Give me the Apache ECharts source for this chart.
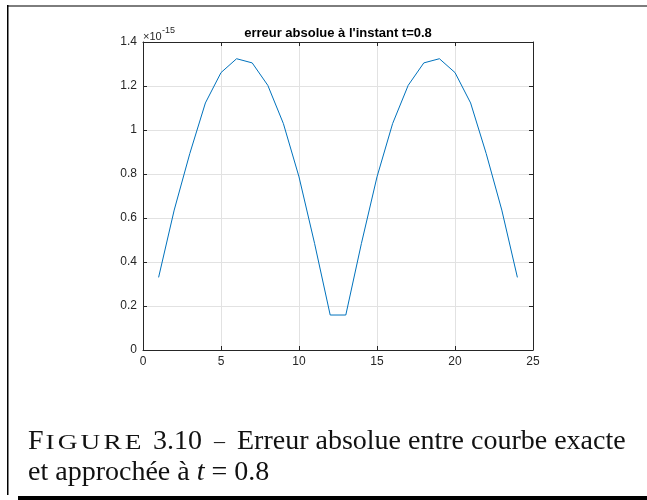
<!DOCTYPE html>
<html>
<head>
<meta charset="utf-8">
<script src="https://cdn.jsdelivr.net/npm/echarts@6/dist/echarts.min.js"></script>
<style>
html,body{margin:0;padding:0;background:#fff;}
#chart{width:647px;height:500px;}
</style>
</head>
<body>
<div id="chart"></div>
<script>
// ---- data (y values in units of 1e-15) ----
const xValues = [1,2,3,4,5,6,7,8,9,10,11,12,13,14,15,16,17,18,19,20,21,22,23,24];
const errorE15 = [0.330,0.636,0.893,1.123,1.261,1.324,1.305,1.203,1.029,0.787,0.484,0.159,
                  0.159,0.484,0.787,1.029,1.203,1.305,1.324,1.261,1.123,0.893,0.636,0.330];
const xTickValues = [0,5,10,15,20,25];
const yTickValues = [0,0.2,0.4,0.6,0.8,1,1.2,1.4];
const titleText = "erreur absolue à l'instant t=0.8";
const exponentBase = '×10';
const exponentPower = '-15';
const captionLabelFirst = 'F';
const captionLabelCaps = ['I','G','U','R','E'];
const captionNumber = '3.10';
const captionDash = '–';
const captionLine1 = 'Erreur absolue entre courbe exacte';
const captionLine2a = 'et approchée à ';
const captionLine2t = 't';
const captionLine2b = ' = 0.8';

const AX = '#262626';
const sans = 'Liberation Sans, Arial, Helvetica, sans-serif';
const serif = 'Liberation Serif, Times New Roman, serif';
const INK = '#111';

const chart = echarts.init(document.getElementById('chart'), null, {renderer:'canvas'});

const fmt = v => String(Number(v.toFixed(2)));
const xMin = xTickValues[0], xMax = xTickValues[xTickValues.length-1];
const xInt = xTickValues[1]-xTickValues[0];
const yMin = yTickValues[0], yMax = yTickValues[yTickValues.length-1];
const yInt = yTickValues[1]-yTickValues[0];

function axisBase(extra){
  return Object.assign({
    type:'value',
    axisLine:{show:true,onZero:false,lineStyle:{color:AX,width:1}},
    axisTick:{show:true,inside:true,length:4,lineStyle:{color:AX,width:1}},
    axisLabel:{show:true,color:AX,fontSize:12,fontFamily:sans,formatter:fmt},
    splitLine:{show:false}
  }, extra);
}

const capsText = captionLabelCaps.map(c => '{s|' + c + '}').join('');
// baseline helper: ECharts 'middle' sits ~0.32em above the alphabetic baseline for this serif
const midY = (baseline, size) => baseline - 0.32*size;
const B1 = 450.5, B2 = 482;

const option = {
  animation:false,
  backgroundColor:'#fff',
  grid:{left:143,top:42,right:114,bottom:150,show:false,containLabel:false},
  xAxis:[
    axisBase({position:'bottom',min:xMin,max:xMax,interval:xInt,
      axisLabel:{show:true,color:AX,fontSize:12,fontFamily:sans,margin:6,formatter:fmt},
      splitLine:{show:true,lineStyle:{color:'#e2e2e2',width:1}}}),
    axisBase({position:'top',min:xMin,max:xMax,interval:xInt,axisLabel:{show:false}})
  ],
  yAxis:[
    axisBase({position:'left',min:yMin,max:yMax,interval:yInt,
      axisLabel:{show:true,color:AX,fontSize:12,fontFamily:sans,margin:6,formatter:fmt},
      splitLine:{show:true,lineStyle:{color:'#e2e2e2',width:1}}}),
    axisBase({position:'right',min:yMin,max:yMax,interval:yInt,axisLabel:{show:false}})
  ],
  series:[{
    type:'line',
    xAxisIndex:0,yAxisIndex:0,
    data:xValues.map((x,i)=>[x,errorE15[i]]),
    symbol:'none',showSymbol:false,
    lineStyle:{color:'#0072BD',width:1},
    z:5
  }],
  graphic:[
    // figure frame
    {type:'rect',shape:{x:7,y:5,width:640,height:2},style:{fill:'#7d7d7d'},silent:true},
    {type:'rect',shape:{x:7,y:5,width:1.5,height:490},style:{fill:'#000'},silent:true},
    {type:'rect',shape:{x:18,y:496,width:629,height:4},style:{fill:'#000'},silent:true},
    // title
    {type:'text',x:338,y:33,style:{text:titleText,fill:'#000',font:'bold 13px '+sans,align:'center',verticalAlign:'middle'}},
    // exponent
    {type:'text',x:143,y:37,style:{text:exponentBase,fill:AX,font:'11px '+sans,align:'left',verticalAlign:'middle'}},
    {type:'text',x:162,y:31,style:{text:exponentPower,fill:AX,font:'9px '+sans,align:'left',verticalAlign:'middle'}},
    // caption line 1
    {type:'text',x:28,y:midY(B1,28),style:{text:captionLabelFirst,fill:INK,font:'28px '+serif,align:'left',verticalAlign:'middle'}},
    {type:'text',x:44,y:midY(B1,21),scaleX:1.3,style:{
      text:capsText,align:'left',verticalAlign:'middle',
      rich:{s:{fontSize:21,fontFamily:serif,fill:INK,padding:[0,1.2,0,1.2]}}}},
    {type:'text',x:153,y:midY(B1,28),style:{text:captionNumber,fill:INK,font:'28px '+serif,align:'left',verticalAlign:'middle'}},
    {type:'text',x:214,y:midY(B1,26),style:{text:captionDash,fill:INK,font:'22px '+serif,align:'left',verticalAlign:'middle'}},
    {type:'text',x:237,y:midY(B1,28),style:{text:captionLine1,fill:INK,font:'28px '+serif,align:'left',verticalAlign:'middle'}},
    // caption line 2
    {type:'text',x:28,y:midY(B2,28),style:{
      text:'{r|'+captionLine2a+'}{i|'+captionLine2t+'}{r|'+captionLine2b+'}',
      verticalAlign:'middle',align:'left',
      rich:{
        r:{fontSize:28,fontFamily:serif,fill:INK},
        i:{fontSize:28,fontFamily:serif,fontStyle:'italic',fill:INK}
      }}}
  ]
};
chart.setOption(option);
</script>
</body>
</html>
